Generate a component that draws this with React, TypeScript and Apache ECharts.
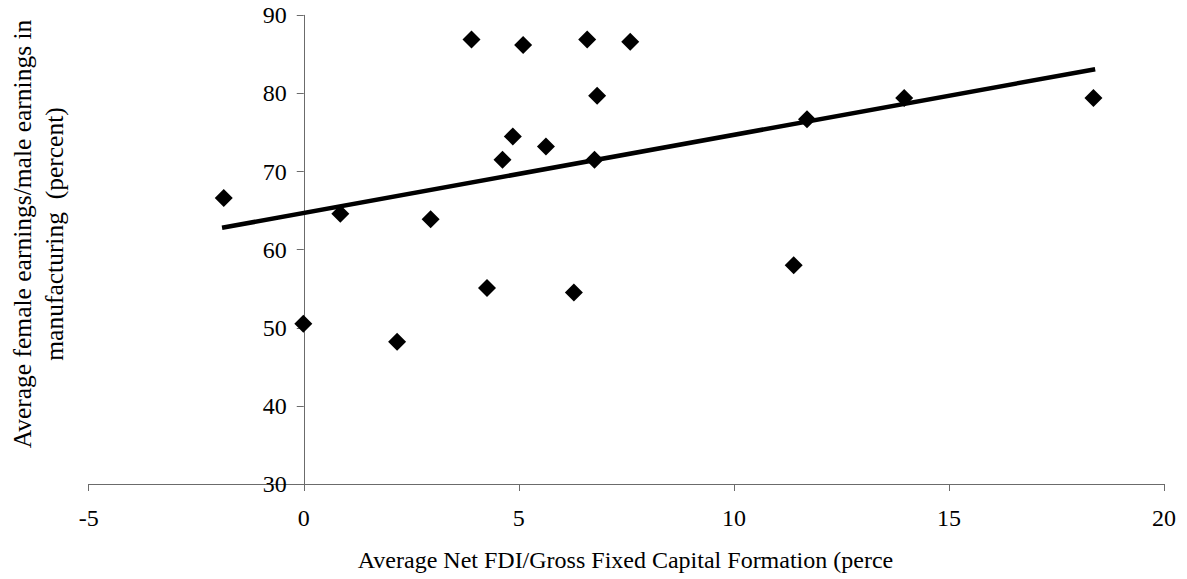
import React, { useEffect, useRef } from "react";
import * as echarts from "echarts";

const fdiShare = [-1.86, 0.85, -0.01, 2.17, 3.9, 5.1, 6.59, 7.59, 6.82, 4.86, 5.63, 4.62, 6.76, 2.95, 4.26, 6.28, 11.39, 11.7, 13.96, 18.36];
const earningsRatio = [66.6, 64.6, 50.5, 48.2, 86.9, 86.2, 86.9, 86.6, 79.7, 74.5, 73.2, 71.5, 71.5, 63.9, 55.1, 54.5, 58.0, 76.7, 79.4, 79.4];
const trendX = [-1.9, 18.4];
const trendY = [62.8, 83.1];
const xTitle = "Average Net FDI/Gross Fixed Capital Formation (perce";
const yTitleLines = ["Average female earnings/male earnings in", "manufacturing  (percent)"];

const FONT = "'Times New Roman', 'Liberation Serif', serif";

export default function App() {
  const ref = useRef<HTMLDivElement>(null);
  useEffect(() => {
    if (!ref.current) return;
    const chart = echarts.init(ref.current, undefined, { renderer: "svg" });
    const points = fdiShare.map((x, i) => [x, earningsRatio[i]]);
    const trend = trendX.map((x, i) => [x, trendY[i]]);
    const gridLeft = 88.7;
    const gridRight = 23;
    const plotW = 1187 - gridLeft - gridRight;
    const zeroOffset = (plotW * (0 - -5)) / 25;
    chart.setOption({
      animation: false,
      backgroundColor: "#fff",
      grid: { left: gridLeft, right: gridRight, top: 15.3, bottom: 95, containLabel: false },
      xAxis: {
        type: "value",
        min: -5,
        max: 20,
        interval: 5,
        splitLine: { show: false },
        axisLine: { show: true, onZero: false, lineStyle: { color: "#6b6b6b", width: 1 } },
        axisTick: { show: true, inside: false, length: 7, lineStyle: { color: "#6b6b6b" } },
        axisLabel: { color: "#000", fontFamily: FONT, fontSize: 24, margin: 22 },
      },
      yAxis: {
        type: "value",
        min: 30,
        max: 90,
        interval: 10,
        offset: -zeroOffset,
        splitLine: { show: false },
        axisLine: { show: true, onZero: false, lineStyle: { color: "#6b6b6b", width: 1 } },
        axisTick: { show: true, inside: false, length: 7, lineStyle: { color: "#6b6b6b" } },
        axisLabel: { color: "#000", fontFamily: FONT, fontSize: 24, margin: 17 },
      },
      graphic: [
        {
          type: "text",
          x: 625.5,
          y: 560,
          style: {
            text: xTitle,
            textAlign: "center",
            textVerticalAlign: "middle",
            fontFamily: FONT,
            fontSize: 24,
            fill: "#000",
          },
        },
        {
          type: "text",
          x: 22,
          y: 234,
          rotation: Math.PI / 2,
          style: {
            text: yTitleLines[0],
            textAlign: "center",
            textVerticalAlign: "middle",
            fontFamily: FONT,
            fontSize: 25.5,
            fill: "#000",
          },
        },
        {
          type: "text",
          x: 54,
          y: 234,
          rotation: Math.PI / 2,
          style: {
            text: yTitleLines[1],
            textAlign: "center",
            textVerticalAlign: "middle",
            fontFamily: FONT,
            fontSize: 25.5,
            fill: "#000",
          },
        },
      ],
      series: [
        {
          type: "line",
          data: trend,
          showSymbol: false,
          symbol: "none",
          lineStyle: { color: "#000", width: 4.5 },
          z: 2,
        },
        {
          type: "scatter",
          data: points,
          symbol: "diamond",
          symbolSize: 18,
          itemStyle: { color: "#000", opacity: 1 },
          z: 3,
        },
      ],
    });
    return () => chart.dispose();
  }, []);
  return (
    <div
      ref={ref}
      style={{ position: "fixed", left: 0, top: 0, width: 1187, height: 579, background: "#fff" }}
    />
  );
}
